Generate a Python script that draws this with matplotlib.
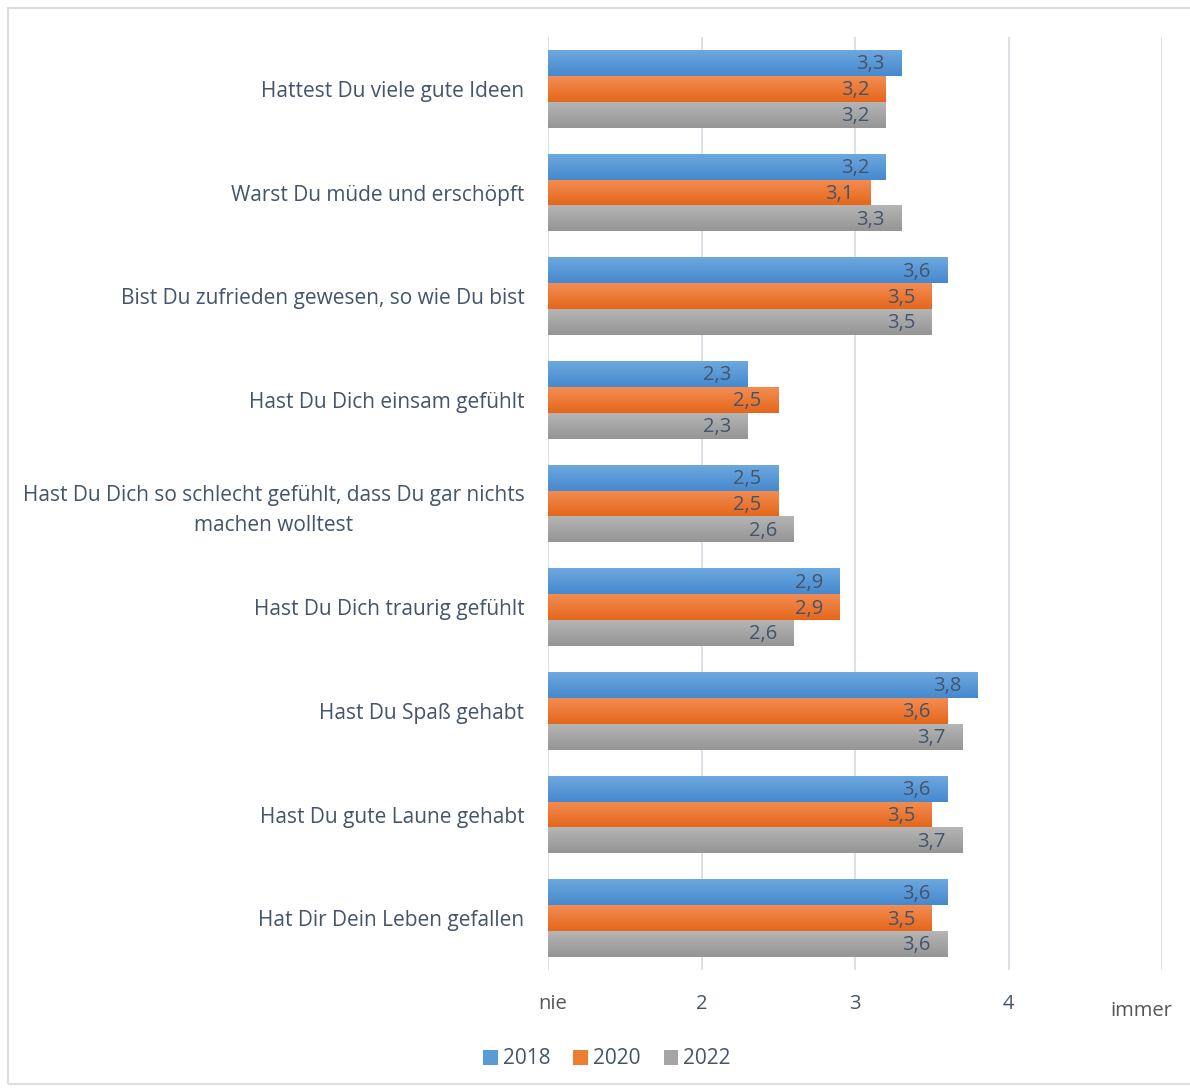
import matplotlib
matplotlib.use("Agg")
import matplotlib.pyplot as plt
import numpy as np
from matplotlib.colors import LinearSegmentedColormap
from matplotlib.patches import Rectangle

categories = [
    "Hattest Du viele gute Ideen",
    "Warst Du müde und erschöpft",
    "Bist Du zufrieden gewesen, so wie Du bist",
    "Hast Du Dich einsam gefühlt",
    "Hast Du Dich so schlecht gefühlt, dass Du gar nichts\nmachen wolltest",
    "Hast Du Dich traurig gefühlt",
    "Hast Du Spaß gehabt",
    "Hast Du gute Laune gehabt",
    "Hat Dir Dein Leben gefallen",
]
years = ["2018", "2020", "2022"]
v2018 = [3.3, 3.2, 3.6, 2.3, 2.5, 2.9, 3.8, 3.6, 3.6]
v2020 = [3.2, 3.1, 3.5, 2.5, 2.5, 2.9, 3.6, 3.5, 3.5]
v2022 = [3.2, 3.3, 3.5, 2.3, 2.6, 2.6, 3.7, 3.7, 3.6]
xticks = [1, 2, 3, 4, 5]
xticklabels = ["nie", "2", "3", "4", "immer"]

series = [v2018, v2020, v2022]
grad = [("#6DA8DF", "#4689CE"), ("#F38D52", "#E5671C"), ("#B5B5B5", "#959595")]
mid = ["#5B9BD5", "#ED7D31", "#A5A5A5"]
txt = "#44546A"
FONT = "Open Sans"

fig = plt.figure(figsize=(11.9, 10.88), dpi=100)
W, H = 1190, 1088
# outer frame
fig.add_artist(Rectangle((8 / W, 1 - 1084 / H), 1.2, 1076 / H, transform=fig.transFigure,
                         fill=False, edgecolor="#D9DEE4", linewidth=1.5))
ax = fig.add_axes([548 / W, 1 - 970 / H, (1162 - 548) / W, (970 - 37) / H])

n = len(categories)
bh = 0.25
for i, vals in enumerate(series):
    cmap = LinearSegmentedColormap.from_list("g%d" % i, [grad[i][0], grad[i][1]])
    for j, v in enumerate(vals):
        yc = j + (i - 1) * bh
        bars = ax.barh(yc, v - 1, left=1, height=bh, color=mid[i], zorder=2)
        rect = bars.patches[0]
        g = np.linspace(0, 1, 64).reshape(-1, 1)
        im = ax.imshow(g, cmap=cmap, extent=[1, v, yc + bh / 2, yc - bh / 2],
                       aspect="auto", zorder=3, interpolation="bilinear")
        im.set_clip_path(rect)
        ax.annotate(f"{v:.1f}".replace(".", ","), (v, yc), xytext=(-12, -1),
                    textcoords="offset points", ha="right", va="center",
                    fontsize=14.5, color=txt, family=FONT, zorder=4)

ax.set_xlim(1, 5)
ax.set_ylim(n - 0.5, -0.5)
ax.set_xticks(xticks)
ax.set_xticklabels([])
ax.tick_params(axis="x", length=0)
ax.grid(axis="x", color="#D9DEE4", linewidth=1.3, zorder=0)
ax.set_axisbelow(True)
for s in ax.spines.values():
    s.set_visible(False)
ax.set_yticks(range(n))
ax.set_yticklabels(categories, fontsize=15, color=txt, family=FONT, ha="right",
                   multialignment="center", linespacing=1.55)
ax.tick_params(axis="y", length=0, pad=17)

# x labels
tr = ax.get_xaxis_transform()
offs = {1: (5, -34), 2: (0, -34), 3: (0, -34), 4: (0, -34), 5: (-21, -41)}
for xv, lab in zip(xticks, xticklabels):
    dx, dy = offs[xv]
    ax.annotate(lab, (xv, 0), xycoords=tr, xytext=(dx * 0.72, dy * 0.72),
                textcoords="offset points", ha="center", va="center",
                fontsize=14.5, color=txt if lab not in ("nie", "immer") else "#555555",
                family=FONT)

handles = [Rectangle((0, 0), 1, 1, facecolor=m) for m in mid]
fig.legend(handles, years, loc="center", bbox_to_anchor=(607 / W, 1 - 1059 / H),
           ncol=3, frameon=False, handlelength=0.7, handleheight=0.7,
           handletextpad=0.25, columnspacing=1.1,
           prop={"family": FONT, "size": 15}, labelcolor=txt)

fig.savefig("out.png", dpi=100)
